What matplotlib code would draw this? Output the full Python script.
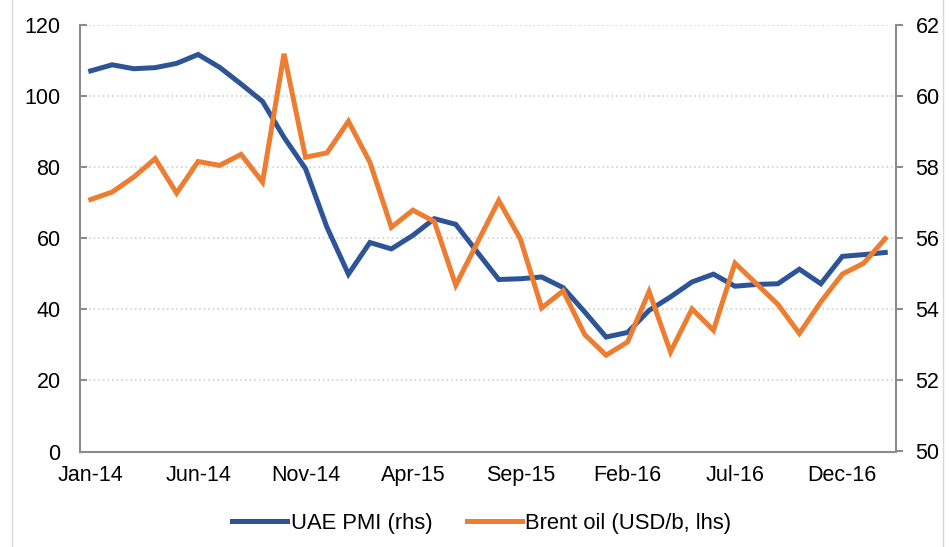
import matplotlib
matplotlib.use("Agg")
import matplotlib.pyplot as plt
from matplotlib.lines import Line2D

plt.rcParams['font.family'] = ['Liberation Sans', 'DejaVu Sans']

# monthly categories Jan-14 .. Feb-17
months = ['Jan-14', 'Feb-14', 'Mar-14', 'Apr-14', 'May-14', 'Jun-14', 'Jul-14', 'Aug-14',
          'Sep-14', 'Oct-14', 'Nov-14', 'Dec-14', 'Jan-15', 'Feb-15', 'Mar-15', 'Apr-15',
          'May-15', 'Jun-15', 'Jul-15', 'Aug-15', 'Sep-15', 'Oct-15', 'Nov-15', 'Dec-15',
          'Jan-16', 'Feb-16', 'Mar-16', 'Apr-16', 'May-16', 'Jun-16', 'Jul-16', 'Aug-16',
          'Sep-16', 'Oct-16', 'Nov-16', 'Dec-16', 'Jan-17', 'Feb-17']

# blue series (labelled "UAE PMI (rhs)", drawn against left axis)
blue_vals = [107.1, 108.8, 107.7, 108.0, 109.2, 111.7, 108.1, 103.4, 98.5, 88.4,
             79.6, 63.1, 49.9, 58.8, 57.0, 60.8, 65.5, 63.9, 56.1, 48.4,
             48.6, 49.1, 46.1, 39.3, 32.2, 33.5, 39.7, 43.5, 47.7, 49.9,
             46.5, 47.0, 47.2, 51.3, 47.2, 54.9, 55.4, 56.0]

# orange series (labelled "Brent oil (USD/b, lhs)", drawn against right axis)
orange_vals = [57.09, 57.30, 57.72, 58.24, 57.27, 58.16, 58.05, 58.36, 57.58, 61.19,
               58.28, 58.40, 59.29, 58.14, 56.31, 56.79, 56.47, 54.68, 55.87, 57.06,
               55.99, 54.04, 54.52, 53.29, 52.71, 53.08, 54.50, 52.80, 54.01, 53.41,
               55.30, 54.72, 54.14, 53.32, 54.21, 54.99, 55.30, 55.99]

blue_label = 'UAE PMI (rhs)'
orange_label = 'Brent oil (USD/b, lhs)'
left_ticks = [0, 20, 40, 60, 80, 100, 120]
right_ticks = [50, 52, 54, 56, 58, 60, 62]
xtick_every = 5

BLUE = '#2c5496'
ORANGE = '#ed7d31'
SPINE = '#8c8c8c'

W, H = 951, 547
fig = plt.figure(figsize=(W / 100, H / 100), dpi=100)
ax = fig.add_axes([80 / W, 1 - 451.5 / H, (896 - 80) / W, (451.5 - 25) / H])
ax2 = ax.twinx()

x = list(range(len(months)))
lb, = ax.plot(x, blue_vals, color=BLUE, lw=3.6, solid_joinstyle='miter', zorder=3)
lo, = ax2.plot(x, orange_vals, color=ORANGE, lw=3.6, solid_joinstyle='miter', zorder=3)

ax.set_xlim(-0.5, len(months) - 0.5)
ax.set_ylim(0, 120)
ax2.set_ylim(50, 62)
ax.set_yticks(left_ticks)
ax2.set_yticks(right_ticks)
ax.set_xticks(x[::xtick_every])
ax.set_xticklabels(months[::xtick_every])

ax.grid(axis='y', color='#c8c8c8', linestyle=(0, (1, 2)), lw=1.1)
ax.set_axisbelow(True)

for a in (ax, ax2):
    for s in a.spines.values():
        s.set_visible(False)
ax.spines['left'].set_visible(True)
ax.spines['bottom'].set_visible(True)
ax2.spines['right'].set_visible(True)
for s in (ax.spines['left'], ax.spines['bottom'], ax2.spines['right']):
    s.set_color(SPINE)
    s.set_linewidth(1.5)

FS = 15.5
ax.tick_params(axis='y', direction='in', length=5, width=1.5, color=SPINE,
               labelsize=FS, pad=14, labelcolor='#000000')
ax2.tick_params(axis='y', direction='out', length=5, width=1.5, color=SPINE,
                labelsize=FS, pad=9, labelcolor='#000000')
ax.tick_params(axis='x', length=0, labelsize=FS, pad=10, labelcolor='#000000')

fig.legend([lb, lo], [blue_label, orange_label], loc='center',
           bbox_to_anchor=(482 / W, 1 - 523 / H), ncol=2, frameon=False,
           fontsize=15.8, handlelength=2.5, handletextpad=0.15, columnspacing=1.6)

# thin frame lines at the figure edges
fig.add_artist(Line2D([12 / W, 12 / W], [0, 1], transform=fig.transFigure,
                      color='#d9d9d9', lw=1))
fig.add_artist(Line2D([943 / W, 943 / W], [0, 1], transform=fig.transFigure,
                      color='#d9d9d9', lw=1))

fig.savefig('out.png', dpi=100)
